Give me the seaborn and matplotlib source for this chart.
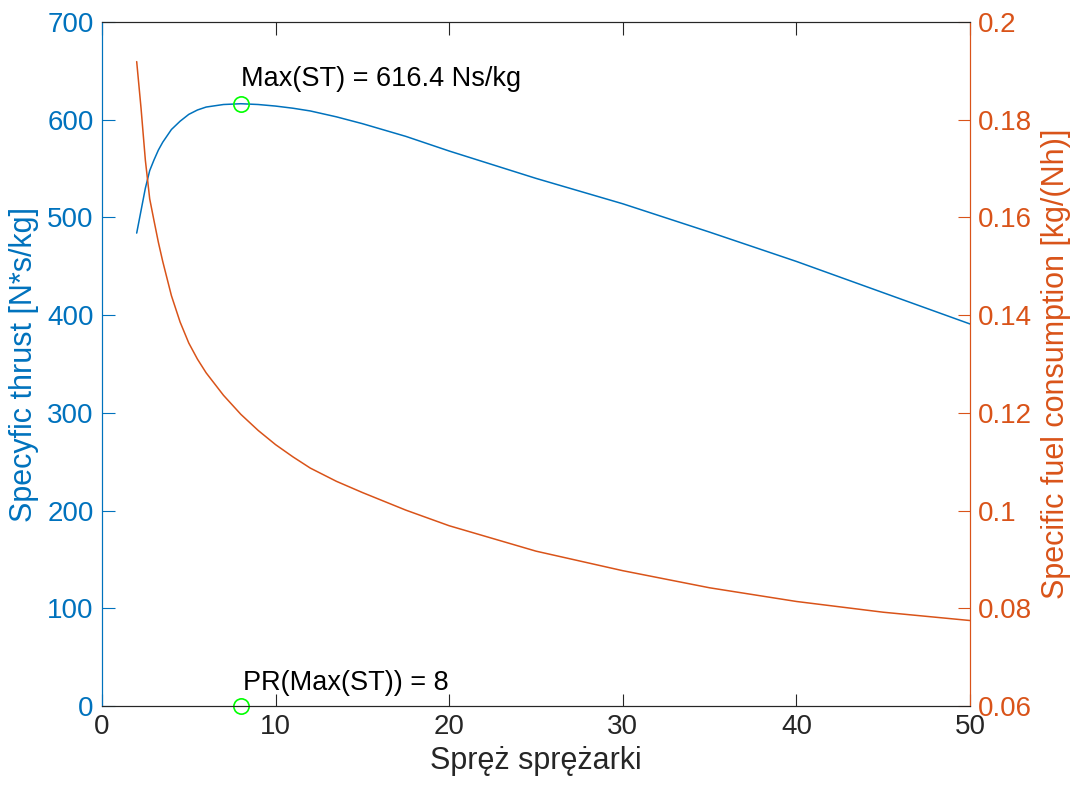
import pandas as pd
import numpy as np
import matplotlib
matplotlib.use("Agg")
import matplotlib.pyplot as plt
import seaborn as sns
from matplotlib.ticker import FuncFormatter

# values
pr = [2, 2.25, 2.5, 2.75, 3, 3.25, 3.5, 4, 4.5, 5, 5.5, 6, 7, 8, 9, 10, 11, 12,
      13.5, 15, 17.5, 20, 25, 30, 35, 40, 45, 50]
specific_thrust = [484, 507, 530, 548, 559, 569, 577, 590, 598.5, 605.5, 610, 613,
                   615.6, 616.4, 615.6, 614, 611.8, 609, 603, 596, 583, 568, 540,
                   514, 485, 455, 423, 391]
sfc = [0.1919, 0.1824, 0.1717, 0.1638, 0.1593, 0.1549, 0.1510, 0.1440, 0.1386,
       0.1343, 0.1310, 0.1282, 0.1236, 0.1197, 0.1164, 0.1135, 0.1110, 0.1087,
       0.1060, 0.1037, 0.1001, 0.0969, 0.0917, 0.0877, 0.0842, 0.0814, 0.0792,
       0.0775]
max_pr = 8
max_st = 616.4

df = pd.DataFrame({"pr": pr, "st": specific_thrust, "sfc": sfc})

sns.set_style("white")
plt.rcParams["font.family"] = ["Liberation Sans", "DejaVu Sans"]

blue = "#0072BD"
orange = "#D95319"
dark = "#262626"

fig = plt.figure(figsize=(10.79, 7.9), dpi=100)
ax = fig.add_axes([0.0945, 0.1063, 0.8045, 0.8658])
ax2 = ax.twinx()

sns.lineplot(data=df, x="pr", y="st", ax=ax, color=blue, lw=1.1)
sns.lineplot(data=df, x="pr", y="sfc", ax=ax2, color=orange, lw=1.1)

# markers at the maximum
ax.plot([max_pr], [max_st], "o", mfc="none", mec="#00FF00", ms=11, mew=1.2, zorder=5)
ax.plot([max_pr], [0], "o", mfc="none", mec="#00FF00", ms=11, mew=1.2, zorder=5, clip_on=False)
ax.text(max_pr, 642, f"Max(ST) = {max_st} Ns/kg", fontsize=19.5, color="black", va="center", ha="left")
ax.text(max_pr + 0.1, 24, f"PR(Max(ST)) = {max_pr}", fontsize=19.5, color="black", va="center", ha="left")

ax.set_xlim(0, 50)
ax.set_ylim(0, 700)
ax2.set_ylim(0.06, 0.2)
ax.set_xticks(range(0, 51, 10))
ax.set_yticks(range(0, 701, 100))
ax2.set_yticks(np.arange(0.06, 0.201, 0.02))
ax2.yaxis.set_major_formatter(FuncFormatter(lambda v, p: f"{round(v, 2):g}"))

ax.set_xlabel("Spręż sprężarki", fontsize=22, color=dark, labelpad=4)
ax.set_ylabel("Specyfic thrust [N*s/kg]", fontsize=22, color=blue, labelpad=6)
ax2.set_ylabel("Specific fuel consumption [kg/(Nh)]", fontsize=22, color=orange, labelpad=6)

ax.tick_params(axis="x", direction="in", length=9, width=0.8, colors=dark, labelsize=20,
               top=True, bottom=True, pad=6)
ax.tick_params(axis="y", direction="in", length=9, width=0.8, colors=blue, labelsize=20,
               left=True, right=False, pad=6)
ax2.tick_params(axis="y", direction="in", length=9, width=0.8, colors=orange, labelsize=20,
                right=True, left=False, pad=6)

for a in (ax, ax2):
    a.spines["top"].set_color(dark)
    a.spines["bottom"].set_color(dark)
    a.spines["left"].set_color(blue)
    a.spines["right"].set_color(orange)
    for s in a.spines.values():
        s.set_linewidth(0.8)
    a.grid(False)

fig.savefig("out.png", dpi=100)
